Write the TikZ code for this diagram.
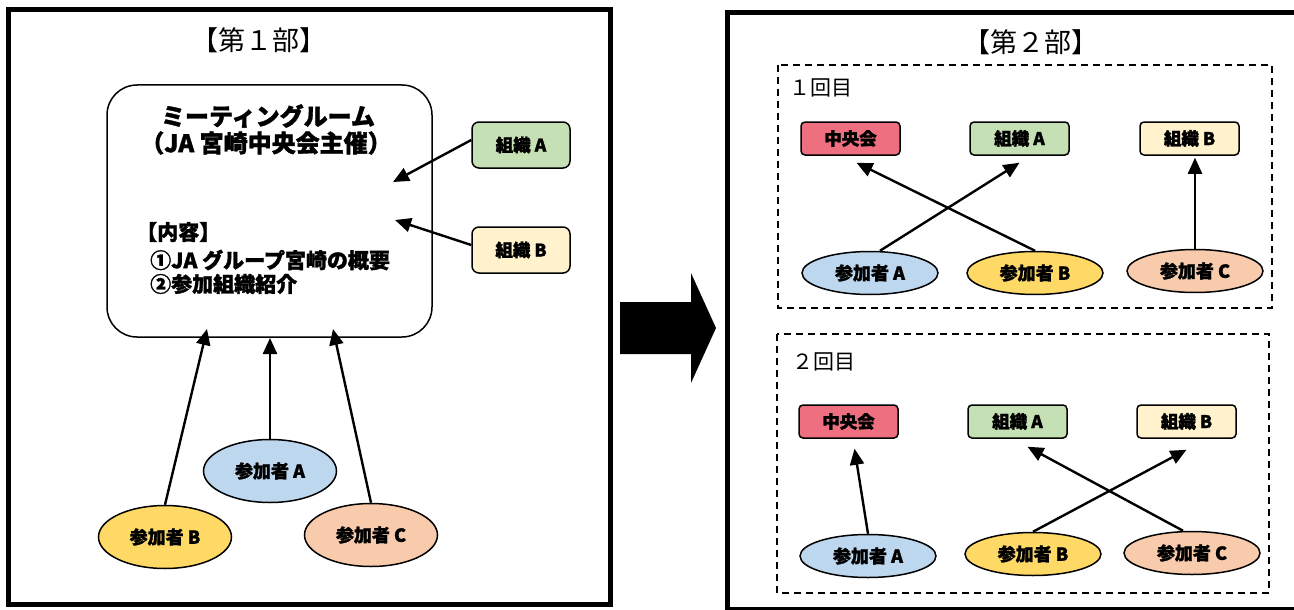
\documentclass[tikz,border=0pt]{standalone}
\usepackage{fontspec}
\setmainfont{Noto Sans CJK JP}[BoldFeatures={FakeBold=1.5}]
\usetikzlibrary{arrows.meta,shapes.geometric}
\definecolor{pplA}{HTML}{BDD7EE}
\definecolor{pplB}{HTML}{FFD966}
\definecolor{pplC}{HTML}{F8CBAD}
\definecolor{orgA}{HTML}{C5E0B4}
\definecolor{orgB}{HTML}{FFF2CC}
\definecolor{orgC}{HTML}{EE7080}
\newcommand{\fsz}[1]{\fontsize{#1}{#1}\selectfont}
\begin{document}
\begin{tikzpicture}[x=1pt,y=-1pt,
  frame/.style={draw, line width=5pt},
  room/.style={draw, rounded corners=30pt, line width=1.5pt, inner sep=0pt},
  orgbox/.style={draw, rounded corners=4pt, line width=1.5pt, inner sep=0pt,
    minimum width=99pt, minimum height=33pt, font=\bfseries\fsz{17.5}},
  bigorg/.style={orgbox, rounded corners=7pt, minimum width=98pt, minimum height=46pt},
  ppl/.style={draw, ellipse, line width=1.5pt, inner sep=0pt,
    minimum width=136pt, minimum height=43pt, font=\bfseries\fsz{18}},
  bigppl/.style={ppl, minimum width=133pt, minimum height=63pt},
  roundbox/.style={draw, line width=1.5pt, dash pattern=on 7pt off 5pt, inner sep=0pt},
  conn/.style={line width=2.4pt, -{Triangle[length=16pt,width=14pt]}},
  ttl/.style={font=\fsz{27}, inner sep=0pt},
  lbl/.style={font=\fsz{21}, inner sep=0pt, anchor=west},
  roomtxt/.style={font=\bfseries\fsz{24}, inner sep=0pt},
  roomitem/.style={font=\bfseries\fsz{21}, inner sep=0pt, anchor=west}
]
\useasboundingbox (0,0) rectangle (1294,610);
\fill[white] (0,0) rectangle (1294,610);

% ---------- Part 1 ----------
\draw[frame] (8,10) rectangle (610,604);
\node[ttl] (t1) at (259,40) {【第１部】};

\node[room, minimum width=325pt, minimum height=252pt] (room) at (269.5,211) {};
\node[roomtxt] (rt1) at (268,116) {ミーティングルーム};
\node[roomtxt] (rt2) at (266,143) {（JA 宮崎中央会主催）};
\node[roomitem] (ri0) at (136,232) {【内容】};
\node[roomitem] (ri1) at (150,260) {①JA グループ宮崎の概要};
\node[roomitem] (ri2) at (150,284) {②参加組織紹介};

\node[bigorg, fill=orgA] (oA1) at (521,145) {組織 A};
\node[bigorg, fill=orgB] (oB1) at (521,250) {組織 B};

\node[bigppl, fill=pplA] (pA1) at (270,471) {参加者 A};
\node[bigppl, fill=pplB] (pB1) at (165,537) {参加者 B};
\node[bigppl, fill=pplC] (pC1) at (371,535) {参加者 C};

\coordinate (tipA) at (393,182);
\coordinate (tipB) at (395,220);
\coordinate (tipPB) at (207,329);
\coordinate (tipPA) at (270,338);
\coordinate (tipPC) at (333,329);

\draw[conn] ([yshift=5pt]oA1.west) -- (tipA);
\draw[conn] ([yshift=5pt]oB1.west) -- (tipB);
\draw[conn] (pB1.north) -- (tipPB);
\draw[conn] (pA1.north) -- (tipPA);
\draw[conn] (pC1.north) -- (tipPC);

% ---------- big arrow ----------
\fill (620,302) -- (691,302) -- (691,273) -- (716,328) -- (691,383) -- (691,354) -- (620,354) -- cycle;

% ---------- Part 2 ----------
\draw[frame] (727,13) rectangle (1310,609);
\node[ttl] (t2) at (1031,42) {【第２部】};

% round 1
\draw[roundbox] (778,65) rectangle (1272,308);
\node[lbl] (l1) at (789,88) {１回目};
\node[orgbox, fill=orgC] (r1oC) at (850.5,138.5) {中央会};
\node[orgbox, fill=orgA] (r1oA) at (1019.5,138.5) {組織 A};
\node[orgbox, fill=orgB] (r1oB) at (1189.5,138.5) {組織 B};
\node[ppl, fill=pplA] (r1pA) at (870,273) {参加者 A};
\node[ppl, fill=pplB] (r1pB) at (1035,273) {参加者 B};
\node[ppl, fill=pplC] (r1pC) at (1195,271) {参加者 C};
\draw[conn] ([xshift=10pt]r1pA.north) -- ([yshift=-7pt]r1oA.south);
\draw[conn] (r1pB.north) -- ([xshift=6pt,yshift=-7pt]r1oC.south);
\draw[conn, shorten >=2pt] (r1pC.north) -- (r1pC.north |- r1oB.south);

% round 2
\draw[roundbox] (777,334) rectangle (1269,593);
\node[lbl] (l2) at (792,362) {２回目};
\node[orgbox, fill=orgC] (r2oC) at (848.5,421.5) {中央会};
\node[orgbox, fill=orgA] (r2oA) at (1017.5,421.5) {組織 A};
\node[orgbox, fill=orgB] (r2oB) at (1186.5,421.5) {組織 B};
\node[ppl, fill=pplA] (r2pA) at (868,556) {参加者 A};
\node[ppl, fill=pplB] (r2pB) at (1033,554) {参加者 B};
\node[ppl, fill=pplC] (r2pC) at (1192,553) {参加者 C};
\draw[conn] (r2pA.north) -- ([xshift=6pt,yshift=-10pt]r2oC.south);
\draw[conn] (r2pB.north) -- ([yshift=-11pt]r2oB.south);
\draw[conn] ([xshift=-9pt]r2pC.north) -- ([xshift=10pt,yshift=-8pt]r2oA.south);
\end{tikzpicture}
\end{document}
